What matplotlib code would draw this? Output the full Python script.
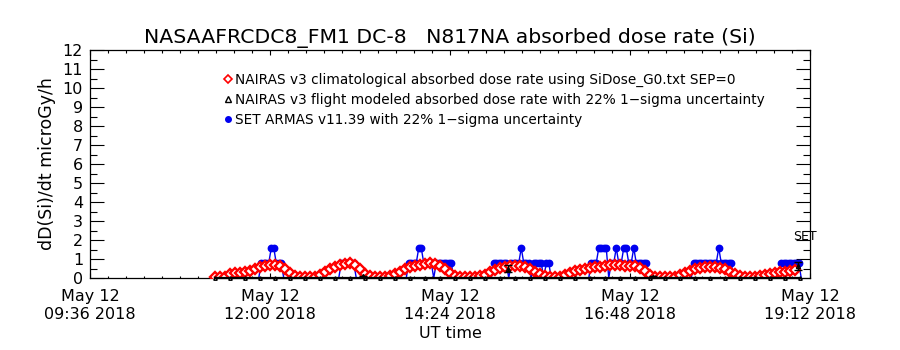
import matplotlib
matplotlib.use("Agg")
import matplotlib.pyplot as plt
import matplotlib.dates as mdates
from matplotlib.ticker import MultipleLocator, FixedLocator
from matplotlib.lines import Line2D
import numpy as np
from datetime import datetime, timedelta

# ---------------- data ----------------
START = datetime(2018, 5, 12, 9, 36)          # x axis start (UT)
END = datetime(2018, 5, 12, 19, 12)           # x axis end (UT)
tick_times = ["09:36", "12:00", "14:24", "16:48", "19:12"]

title = "NASAAFRCDC8_FM1 DC-8   N817NA absorbed dose rate (Si)"
ylabel = "dD(Si)/dt microGy/h"
xlabel = "UT time"
legend_labels = [
    "NAIRAS v3 climatological absorbed dose rate using SiDose_G0.txt SEP=0",
    "NAIRAS v3 flight modeled absorbed dose rate with 22% 1\u2212sigma uncertainty",
    "SET ARMAS v11.39 with 22% 1\u2212sigma uncertainty",
]

# NAIRAS climatological (minutes after 09:36 UT, sampled every 4 min)
red_minutes = np.arange(100, 565, 4)
red_values = [
    0.05, 0.05, 0.05, 0.22, 0.28, 0.28, 0.30, 0.36, 0.46, 0.56,
    0.63, 0.68, 0.68, 0.62, 0.45, 0.26, 0.12, 0.05, 0.05, 0.05,
    0.06, 0.17, 0.32, 0.47, 0.60, 0.70, 0.76, 0.77, 0.68, 0.45,
    0.22, 0.08, 0.05, 0.05, 0.05, 0.08, 0.20, 0.34, 0.47, 0.58,
    0.65, 0.70, 0.75, 0.77, 0.74, 0.62, 0.45, 0.28, 0.12, 0.05,
    0.05, 0.05, 0.05, 0.08, 0.18, 0.32, 0.44, 0.52, 0.58, 0.61,
    0.63, 0.62, 0.58, 0.48, 0.34, 0.20, 0.08, 0.05, 0.05, 0.06,
    0.14, 0.25, 0.35, 0.44, 0.50, 0.54, 0.57, 0.60, 0.62, 0.66,
    0.68, 0.66, 0.65, 0.64, 0.62, 0.54, 0.36, 0.18, 0.07, 0.05,
    0.05, 0.05, 0.07, 0.15, 0.27, 0.38, 0.47, 0.53, 0.57, 0.59,
    0.58, 0.55, 0.47, 0.34, 0.20, 0.08, 0.05, 0.05, 0.05, 0.08,
    0.14, 0.20, 0.25, 0.30, 0.34, 0.38, 0.42,
]

# NAIRAS flight modeled (baseline samples) and points with uncertainty
black_minutes = [100, 112, 124, 136, 148, 160, 172, 184, 196, 208,
                 220, 232, 244, 256, 268, 280, 292, 304, 316, 328,
                 340, 352, 364, 376, 388, 400, 412, 424, 436, 448,
                 460, 472, 484, 496, 508, 520, 532, 544, 556, 568]
black_values = [0.0, 0.0, 0.0, 0.0, 0.0, 0.0, 0.0, 0.0, 0.0, 0.0,
                0.0, 0.0, 0.0, 0.0, 0.0, 0.0, 0.0, 0.0, 0.0, 0.0,
                0.0, 0.0, 0.0, 0.0, 0.0, 0.0, 0.0, 0.0, 0.0, 0.0,
                0.0, 0.0, 0.0, 0.0, 0.0, 0.0, 0.0, 0.0, 0.0, 0.0]
black_err_minutes = [218, 334, 450, 566]
black_err_values = [0.08, 0.50, 0.06, 0.64]
black_err_sigma = [0.04, 0.17, 0.04, 0.21]

# SET ARMAS (minutes after 09:36 UT)
blue_minutes = [
    135, 137, 139, 141, 143, 145, 147, 149, 151, 153, 155,
    199, 201, 203, 205, 207, 209, 211, 213,
    253, 255, 257, 259, 261, 263, 265, 267, 269, 271, 273, 275, 277, 279,
    281, 283, 285, 287, 289, 291,
    321, 323, 325, 327, 329, 331, 333, 335, 337, 339, 341, 343, 345, 347,
    349, 351, 353, 355, 357, 359, 361, 363, 365, 367, 369,
    399, 401, 403, 405, 407, 409, 411, 413, 415, 417, 419, 421, 423, 425,
    427, 429, 431, 433, 435, 437, 439, 441, 443, 445, 447,
    481, 483, 485, 487, 489, 491, 493, 495, 497, 499, 501, 503, 505, 507,
    509, 511, 513, 515,
    551, 553, 555, 557, 559, 561, 563, 565, 567, 569,
]
blue_values = [
    0.0, 0.79, 0.79, 0.79, 0.79, 1.58, 1.58, 0.79, 0.79, 0.79, 0.0,
    0.0, 0.79, 0.79, 0.79, 0.79, 0.79, 0.79, 0.0,
    0.0, 0.79, 0.79, 0.79, 0.79, 1.58, 1.58, 0.79, 0.79, 0.79, 0.79, 0.0, 0.79, 0.79,
    0.79, 0.79, 0.79, 0.79, 0.79, 0.0,
    0.0, 0.79, 0.79, 0.79, 0.79, 0.79, 0.79, 0.0, 0.79, 0.79, 0.79, 0.79, 1.58, 0.79,
    0.79, 0.79, 0.0, 0.79, 0.79, 0.79, 0.79, 0.0, 0.79, 0.79, 0.0,
    0.0, 0.79, 0.79, 0.79, 1.58, 1.58, 1.58, 1.58, 0.0, 0.79, 0.79, 1.58, 0.79, 0.79,
    1.58, 1.58, 0.79, 0.79, 1.58, 0.79, 0.79, 0.79, 0.79, 0.79, 0.0,
    0.0, 0.79, 0.79, 0.79, 0.79, 0.79, 0.79, 0.79, 0.79, 0.79, 0.79, 1.58, 0.79, 0.79,
    0.79, 0.79, 0.79, 0.0,
    0.0, 0.79, 0.79, 0.79, 0.79, 0.79, 0.79, 0.79, 0.79, 0.0,
]

set_label = "SET"
set_label_value = 2.2

# ---------------- plotting ----------------
def to_num(minutes):
    return mdates.date2num([START + timedelta(minutes=float(m)) for m in minutes])

plt.rcParams["font.family"] = ["DejaVu Sans"]
fig = plt.figure(figsize=(9, 3.5), dpi=100)
ax = fig.add_axes([90 / 900, 1 - 278 / 350, 720 / 900, 228 / 350])

blue_marks = [v > 0 for v in blue_values]
ax.plot(to_num(blue_minutes), blue_values, color="#0000f0", lw=1.0,
        marker="o", ms=4.6, mfc="#0000f0", mec="#0000f0",
        markevery=blue_marks, zorder=2)
ax.plot(to_num(red_minutes), red_values, color="red", lw=0,
        marker="D", ms=5.0, mfc="white", mec="red", mew=1.7, zorder=3)
ax.plot(to_num(black_minutes), black_values, color="black", lw=1.6,
        marker="^", ms=2.5, mfc="none", mec="black", zorder=4, clip_on=False)
ax.errorbar(to_num(black_err_minutes), black_err_values, yerr=black_err_sigma,
            fmt="^", ms=3, mfc="none", mec="black", ecolor="black",
            elinewidth=1, capsize=3, zorder=5)

x0, x1 = mdates.date2num(START), mdates.date2num(END)
ax.set_xlim(x0, x1)
ax.set_ylim(0, 12)

tick_nums = mdates.date2num([datetime.strptime("2018-05-12 " + t, "%Y-%m-%d %H:%M")
                             for t in tick_times])
ax.xaxis.set_major_locator(FixedLocator(tick_nums))
ax.xaxis.set_major_formatter(mdates.DateFormatter("%b %d\n%H:%M %Y"))
ax.xaxis.set_minor_locator(MultipleLocator((tick_nums[1] - tick_nums[0]) / 10))
ax.yaxis.set_major_locator(MultipleLocator(1))
ax.yaxis.set_minor_locator(MultipleLocator(0.5))

ax.tick_params(axis="y", which="major", direction="in", length=10, width=0.8,
               left=True, right=True, labelsize=11.5, pad=5)
ax.tick_params(axis="y", which="minor", direction="in", length=5, width=0.8,
               left=True, right=True)
ax.tick_params(axis="x", which="major", direction="in", length=3.5, width=0.8,
               top=True, bottom=True, labelsize=11.5, pad=8)
ax.tick_params(axis="x", which="minor", direction="in", length=1.8, width=0.8,
               top=True, bottom=True)
for s in ax.spines.values():
    s.set_linewidth(0.9)

ax.set_title(title, fontsize=14.7, pad=5)
ax.set_ylabel(ylabel, fontsize=12.5, labelpad=5)
ax.set_xlabel(xlabel, fontsize=11.5, labelpad=3)

ax.text(0.993, set_label_value, set_label, transform=ax.get_yaxis_transform(),
        ha="center", va="center", fontsize=9)

handles = [
    Line2D([], [], lw=0, marker="D", ms=4, mfc="white", mec="red", mew=1.2),
    Line2D([], [], lw=0, marker="^", ms=4, mfc="white", mec="black", mew=1.0),
    Line2D([], [], lw=0, marker="o", ms=4, mfc="#0000f0", mec="#0000f0"),
]
ax.legend(handles, legend_labels, loc="upper left", bbox_to_anchor=(0.186, 0.90),
          frameon=False, fontsize=9.8, handlelength=0.6, handletextpad=0.2,
          labelspacing=0.45, borderaxespad=0, borderpad=0)

fig.savefig("out.png", dpi=100)
